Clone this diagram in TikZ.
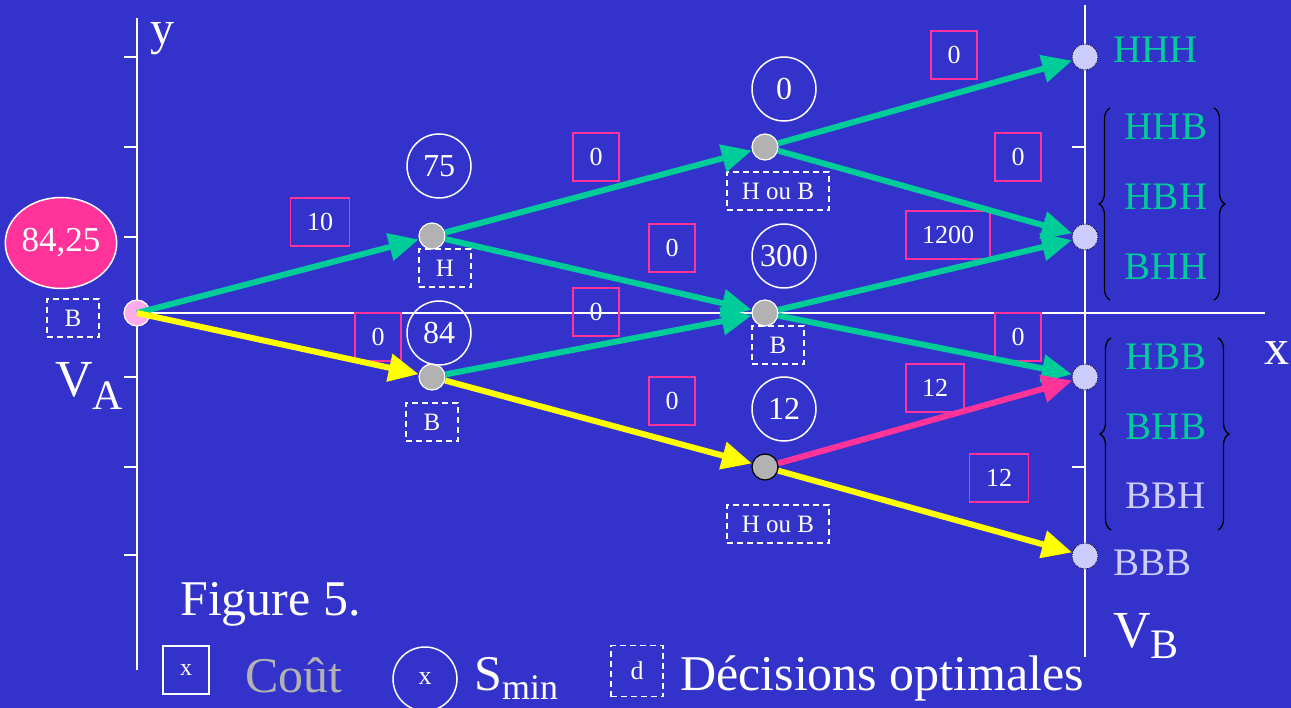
\documentclass[tikz,border=0pt]{standalone}
\usepackage{fontspec}
\setmainfont{Liberation Serif}
\usetikzlibrary{arrows.meta,shapes.geometric,decorations.pathreplacing}
\definecolor{bgblue}{RGB}{51,51,204}
\definecolor{mgreen}{RGB}{0,204,153}
\definecolor{mpink}{RGB}{255,51,153}
\definecolor{myellow}{RGB}{255,255,0}
\definecolor{ngray}{RGB}{178,178,178}
\definecolor{lav}{RGB}{204,204,255}
\definecolor{lpink}{RGB}{255,170,235}
\newcommand{\myfs}[1]{\fontsize{#1}{#1}\selectfont}
\begin{document}
\begin{tikzpicture}[x=1pt,y=-1pt,
  cost/.style={draw=mpink,line width=1.5pt,minimum width=46pt,minimum height=48pt,inner sep=0pt,text=white,font=\myfs{26}},
  smin/.style={circle,draw=white,line width=1.5pt,minimum size=64pt,inner sep=0pt,text=white,font=\myfs{32}},
  dec/.style={draw=white,dash pattern=on 6pt off 4pt,line width=1.4pt,minimum width=52pt,minimum height=38pt,inner sep=0pt,text=white,font=\myfs{25}},
  state/.style={circle,draw=white,line width=1.2pt,fill=ngray,minimum size=26pt,inner sep=0pt},
  final/.style={circle,draw=black,densely dotted,line width=0.8pt,fill=lav,minimum size=26pt,inner sep=0pt},
  arr/.style={line width=6pt,-{Triangle[length=30pt,width=27pt]}},
  axis/.style={draw=white,line width=1.5pt},
  big/.style={inner sep=0pt,text=white,font=\myfs{50}},
  outc/.style={inner sep=0pt,anchor=base,font=\myfs{39}},
  brc/.style={draw=black,line width=1.3pt,decorate,decoration={brace,amplitude=11pt}}
]
\fill[bgblue] (0,0) rectangle (1291,708);
\useasboundingbox (0,0) rectangle (1291,708);

% axes
\coordinate (ly0) at (137,18); \coordinate (ly1) at (137,670);
\coordinate (ry0) at (1085,5); \coordinate (ry1) at (1085,657);
\coordinate (x0) at (137,313); \coordinate (x1) at (1265,313);
\draw[axis] (ly0) -- (ly1);
\draw[axis] (ry0) -- (ry1);
\draw[axis] (x0) -- (x1);
\foreach \t in {57,147,237,377,467,555}{
  \draw[axis] (124,\t) -- (137,\t);
  \draw[axis] (1072,\t) -- (1085,\t);
}
\node[big,anchor=base west,font=\myfs{48}] (ylab) at (150,45) {y};
\node[big,anchor=base] (xlab) at (1277,365) {x};

% start
\node[ellipse,draw=white,line width=1.5pt,fill=mpink,minimum width=104pt,minimum height=91pt,inner sep=0pt,text=white,font=\myfs{35}] (va0) at (61,243) {84,25};
\node[dec] (dA) at (73,318) {B};
\node[big,anchor=base west] (valbl) at (55,397) {\myfs{52}V\raisebox{-13pt}{\myfs{42}A}};
\node[circle,draw=white,line width=1.2pt,fill=lpink,minimum size=26pt,inner sep=0pt] (va) at (137,313) {};

% stage 1
\node[state] (h1) at (432,236) {};
\node[state] (b1) at (432,377) {};
\node[smin] (s75) at (439,166) {75};
\node[smin] (s84) at (439,333) {84};
\node[dec] (dH1) at (445,268) {H};
\node[dec] (dB1) at (432,422) {B};
\node[cost,minimum width=59pt] (c10) at (320,222) {10};
\node[cost] (c0a) at (378,337) {0};

% stage 2
\node[state] (hh) at (765,147) {};
\node[state] (hb) at (765,313) {};
\node[state,draw=black] (bb) at (765,467) {};
\node[smin] (s0) at (784,89) {0};
\node[smin] (s300) at (784,256) {300};
\node[smin] (s12) at (784,409) {12};
\node[dec,minimum width=102pt] (d2a) at (778,191) {H ou B};
\node[dec] (d2b) at (778,345) {B};
\node[dec,minimum width=102pt] (d2c) at (778,524) {H ou B};
\node[cost] (c0b) at (596,157) {0};
\node[cost] (c0c) at (672,248) {0};
\node[cost] (c0d) at (596,312) {0};
\node[cost] (c0e) at (672,401) {0};

% stage 3
\node[final] (f1) at (1085,57) {};
\node[final] (f2) at (1085,237) {};
\node[final] (f3) at (1085,377) {};
\node[final] (f4) at (1085,556) {};
\node[cost] (c0f) at (954,55) {0};
\node[cost] (c0g) at (1018,157) {0};
\node[cost,minimum width=84pt] (c1200) at (948,235) {1200};
\node[cost] (c0h) at (1018,337) {0};
\node[cost,minimum width=58pt] (c12a) at (935,388) {12};
\node[cost,minimum width=59pt] (c12b) at (999,478) {12};

% outcomes
\node[outc,anchor=base west,text=mgreen] (o1) at (1113,63) {HHH};
\node[outc,text=mgreen] (o2) at (1166,140) {HHB};
\node[outc,text=mgreen] (o3) at (1166,210) {HBH};
\node[outc,text=mgreen] (o4) at (1166,280) {BHH};
\node[outc,text=mgreen] (o5) at (1166,370) {HBB};
\node[outc,text=mgreen] (o6) at (1166,440) {BHB};
\node[outc,text=lav] (o7) at (1166,508) {BBH};
\node[outc,anchor=base west,text=lav] (o8) at (1113,575) {BBB};
\draw[brc] (1110,300) -- (1110,108);
\draw[brc] (1214,108) -- (1214,300);
\draw[brc] (1111,530) -- (1111,338);
\draw[brc] (1218,338) -- (1218,530);
\node[big,anchor=base west] (vblbl) at (1113,647) {\myfs{52}V\raisebox{-11pt}{\myfs{42}B}};

% arrows
\draw[arr,mgreen] (va.center) -- (h1);
\draw[arr,myellow] (va.center) -- (b1);
\draw[arr,mgreen] (h1) -- (hh);
\draw[arr,mgreen] (h1) -- (hb);
\draw[arr,mgreen] (b1) -- (hb);
\draw[arr,myellow] (b1) -- (bb);
\draw[arr,mgreen] (hh) -- (f1);
\draw[arr,mgreen] (hh) -- (f2);
\draw[arr,mgreen] (hb) -- (f2);
\draw[arr,mgreen] (hb) -- (f3);
\draw[arr,mpink] (bb) -- (f3);
\draw[arr,myellow] (bb) -- (f4);

% legend
\node[big,anchor=base west] (fig) at (180,615) {Figure 5.};
\node[draw=white,line width=1.5pt,minimum width=46pt,minimum height=48pt,inner sep=0pt,text=white,font=\myfs{24}] (lc) at (186,670) {x};
\node[big,anchor=base west,text=ngray] (lct) at (245,692) {Coût};
\node[smin,font=\myfs{26}] (ls) at (425,679) {x};
\node[big,anchor=base west] (lst) at (474,690) {S\raisebox{-9pt}{\myfs{36}min}};
\node[dec,minimum height=51pt,font=\myfs{26}] (ld) at (637,671) {d};
\node[big,anchor=base west] (ldt) at (680,690) {Décisions optimales};
\end{tikzpicture}
\end{document}
